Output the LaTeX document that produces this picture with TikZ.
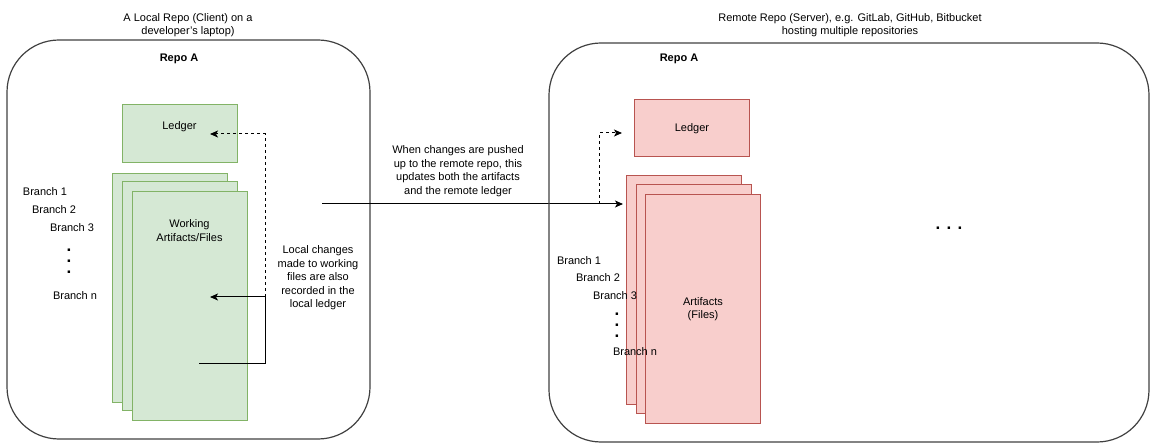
\documentclass[tikz,border=0pt]{standalone}
\usepackage{fontspec}
\setmainfont{Liberation Sans}
\usetikzlibrary{positioning,arrows.meta}
\definecolor{gfill}{HTML}{D5E8D4}
\definecolor{gline}{HTML}{82B366}
\definecolor{rfill}{HTML}{F8CECC}
\definecolor{rline}{HTML}{B85450}
\tikzset{
  repo/.style={draw=black!75,line width=1.2pt,rounded corners=52pt,minimum width=#1,minimum height=399pt},
  sheet/.style={draw=#1line,fill=#1fill,line width=1pt,minimum width=115pt},
  branch/.style={anchor=west},
  vdots/.style={align=center,font=\fontsize{17pt}{11pt}\selectfont\bfseries}
}

\begin{document}
\begin{tikzpicture}[x=1pt,y=-1pt,>={Stealth[length=8pt,width=7pt,inset=2pt]},line width=1pt,
  font=\fontsize{11pt}{13.5pt}\selectfont,inner sep=0pt,outer sep=0pt]
\useasboundingbox (0,0) rectangle (1159,446);

% local repo
\node[repo=363pt] (loc) at (188.5,239.5) {};
\node[align=center] (loct) at (188,25) {A Local Repo (Client) on a\\developer's laptop)};
\node (loca) at (179,59) {\textbf{Repo A}};
\node[sheet=g,minimum height=58pt,label={[yshift=7pt]center:Ledger}] (locl) at (179.5,134) {};
\node[sheet=g,minimum height=228pt] (locw1) at (169.5,288) {};
\node[sheet=g,minimum height=228pt] (locw2) at (179.5,296) {};
\node[sheet=g,minimum height=228pt] (locw3) at (189.5,306) {};
\node[align=center,below=28pt of locw3.north] (locwt) {Working\\Artifacts/Files};
\node[branch] (locb1) at (23,192) {Branch 1};
\node[branch] (locb2) at (32,210) {Branch 2};
\node[branch] (locb3) at (50,228) {Branch 3};
\node[vdots] (locbd) at (69,261) {.\\.\\.};
\node[branch] (locbn) at (53,296) {Branch n};
\node[align=center] (locnote) at (318,278) {Local changes\\made to working\\files are also\\recorded in the\\local ledger};

\coordinate (lsrc) at (199,363);
\coordinate (ljoin) at (265,297);
\coordinate (lwin) at (210,297);
\coordinate (llin) at (210,134);
\draw[->] (lsrc) -| (ljoin) -- (lwin);
\draw[->,dashed] (ljoin) |- (llin);

% push
\coordinate (psrc) at (322,204);
\coordinate (rjoin) at (599,204);
\coordinate (rwin) at (623,204);
\coordinate (rlin) at (622,133);
\draw[->] (psrc) -- (rwin);
\draw[->,dashed] (rjoin) |- (rlin);
\node[align=center] (pnote) at (458,171) {When changes are pushed\\up to the remote repo, this\\updates both the artifacts\\and the remote ledger};

% remote repo
\node[repo=600pt] (rem) at (849,242.5) {};
\node[align=center] (remt) at (850,25) {Remote Repo (Server), e.g. GitLab, GitHub, Bitbucket\\hosting multiple repositories};
\node (rema) at (679,59) {\textbf{Repo A}};
\node[sheet=r,minimum height=57pt] (reml) at (692,128.5) {Ledger};
\node[sheet=r,minimum height=228pt] (remw1) at (684,290) {};
\node[sheet=r,minimum height=228pt] (remw2) at (693.5,299) {};
\node[sheet=r,minimum height=228pt,align=center] (remw3) at (703,309) {Artifacts\\(Files)};
\node[branch] (remb1) at (557,261) {Branch 1};
\node[branch] (remb2) at (576,278) {Branch 2};
\node[branch] (remb3) at (593,296) {Branch 3};
\node[vdots] (rembd) at (617,325) {.\\.\\.};
\node[branch] (rembn) at (613,352) {Branch n};
\node[font=\fontsize{17pt}{17pt}\selectfont\bfseries] (more) at (949,228) {. . .};
\end{tikzpicture}
\end{document}
